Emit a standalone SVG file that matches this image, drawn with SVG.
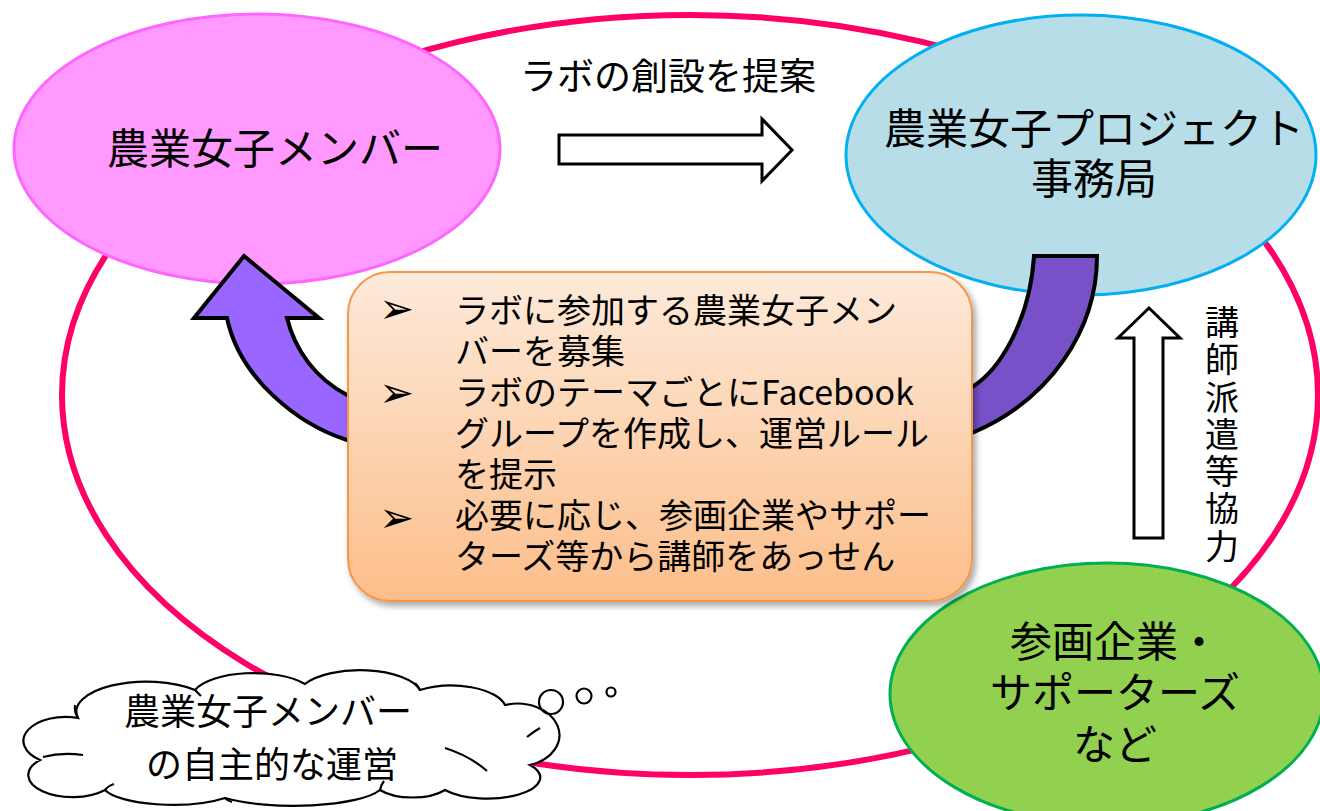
<svg xmlns="http://www.w3.org/2000/svg" width="1320" height="811" viewBox="0 0 1320 811">
<defs>
<linearGradient id="boxg" x1="0" y1="0" x2="0" y2="1">
<stop offset="0" stop-color="#FDEADA"/>
<stop offset="1" stop-color="#FCBE8A"/>
</linearGradient>
<filter id="sh" x="-10%" y="-10%" width="120%" height="125%">
<feDropShadow dx="3" dy="4" stdDeviation="3" flood-color="#000" flood-opacity="0.35"/>
</filter>
</defs>
<style>
.t{font-family:"Noto Sans CJK JP","Noto Sans",sans-serif;fill:#000}
.ol{stroke:#000;stroke-width:4;stroke-linejoin:miter}
.wa{fill:#fff;stroke:#000;stroke-width:3;stroke-linejoin:miter}
.bul{font-family:"DejaVu Sans",sans-serif;font-size:42px;fill:#000}
.cl{fill:none;stroke:#000;stroke-width:2.2}
</style>
<rect width="1320" height="811" fill="#fff"/>
<g id="ring">
<ellipse cx="690" cy="395" rx="628" ry="380" fill="none" stroke="#FF0066" stroke-width="6"/>
</g>
<g id="members">
<ellipse cx="257" cy="149" rx="243" ry="135" fill="#FF99FF" stroke="#FF66FF" stroke-width="3"/>
<text class="t" x="275" y="164" font-size="42" text-anchor="middle">農業女子メンバー</text>
</g>
<g id="office">
<ellipse cx="1081" cy="155" rx="235" ry="140" fill="#B7DEE8" stroke="#00B0F0" stroke-width="3"/>
<text class="t" x="1094" y="144" font-size="42" text-anchor="middle">農業女子プロジェクト</text>
<text class="t" x="1094" y="194" font-size="42" text-anchor="middle">事務局</text>
</g>
<g id="supporters">
<ellipse cx="1107" cy="694" rx="217" ry="131" fill="#92D050" stroke="#00B050" stroke-width="3"/>
<text class="t" x="1115" y="657" font-size="42" text-anchor="middle">参画企業・</text>
<text class="t" x="1115" y="708" font-size="42" text-anchor="middle">サポーターズ</text>
<text class="t" x="1115" y="760" font-size="42" text-anchor="middle">など</text>
</g>
<g id="connectors">
<polygon class="wa" points="559,135 762,135 762,119 792,150 762,181 762,164 559,164"/>
<text class="t" x="668" y="90" font-size="37" text-anchor="middle">ラボの創設を提案</text>
<polygon class="wa" points="1134,538 1134,338 1118,338 1149,308 1180,338 1163,338 1163,538"/>
<text class="t" x="1222" y="305" font-size="34" style="writing-mode:vertical-rl;letter-spacing:3.3px">講師派遣等協力</text>
<path class="ol" fill="#9966FF" d="M244,256 L319,318 L287,318 C295,350 315,378 347,395 L380,405 L380,455 L347,440 C300,425 240,380 227,318 L194,318 Z"/>
<path class="ol" fill="#7851C8" d="M1034,256 L1097,256 C1097,330 1050,400 972,433 L940,445 L940,390 L972,387 C1000,370 1030,320 1034,256 Z"/>
</g>
<g id="lab-box">
<rect x="348" y="272" width="624" height="329" rx="42" ry="42" fill="url(#boxg)" stroke="#F79646" stroke-width="2" filter="url(#sh)"/>
<text class="bul" x="379" y="323">➢</text>
<text class="bul" x="379" y="407">➢</text>
<text class="bul" x="379" y="532">➢</text>
<text class="t" font-size="34" x="455" y="323">ラボに参加する農業女子メン</text>
<text class="t" font-size="34" x="455" y="364">バーを募集</text>
<text class="t" font-size="34" x="455" y="405">ラボのテーマごとにFacebook</text>
<text class="t" font-size="34" x="455" y="446">グループを作成し、運営ルール</text>
<text class="t" font-size="34" x="455" y="487">を提示</text>
<text class="t" font-size="34" x="455" y="528">必要に応じ、参画企業やサポー</text>
<text class="t" font-size="34" x="455" y="569">ターズ等から講師をあっせん</text>
</g>
<g id="cloud">
<path d="M40,760 A42,24 0 0 1 78,718 A70,30 0 0 1 195,690 A62,25 0 0 1 305,684 A62,26 0 0 1 420,690 A55,25 0 0 1 505,705 A40,30 0 0 1 530,765 A50,20 0 0 1 445,790 A40,18 0 0 1 380,790 A90,22 0 0 1 225,798 A70,20 0 0 1 105,790 A40,20 0 0 1 40,760 Z" fill="#fff" stroke="#000" stroke-width="2.2"/>
<path class="cl" d="M78,718 Q74,712 75,705"/>
<path class="cl" d="M43,757 Q62,752 83,755"/>
<path class="cl" d="M105,790 Q108,786 114,784"/>
<path class="cl" d="M225,798 Q228,801 232,802"/>
<path class="cl" d="M380,790 Q381,785 384,781"/>
<path class="cl" d="M445,748 Q470,756 487,771"/>
<path class="cl" d="M527,737 Q533,732 540,728"/>
<path class="cl" d="M195,690 Q198,693 201,696"/>
<path class="cl" d="M420,690 Q418,686 415,683"/>
<text class="t" x="268" y="725" font-size="36" text-anchor="middle">農業女子メンバー</text>
<text class="t" x="272" y="778" font-size="36" text-anchor="middle">の自主的な運営</text>
<circle cx="551" cy="702" r="12" fill="none" stroke="#000" stroke-width="2.2"/>
<circle cx="584" cy="696" r="7.5" fill="none" stroke="#000" stroke-width="2.2"/>
<circle cx="611" cy="692" r="4.5" fill="none" stroke="#000" stroke-width="2.2"/>
</g>
</svg>
